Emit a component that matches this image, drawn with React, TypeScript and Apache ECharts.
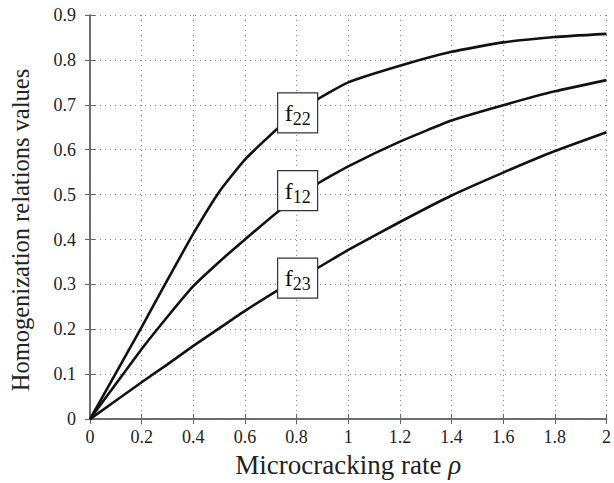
import React, { useEffect, useRef } from "react";
import * as echarts from "echarts";

const rho = [0, 0.2, 0.3, 0.4, 0.5, 0.6, 0.73, 0.88, 1.0, 1.2, 1.4, 1.6, 1.8, 2.0];
const f22 = [0, 0.205, 0.31, 0.413, 0.506, 0.578, 0.649, 0.712, 0.75, 0.787, 0.818, 0.839, 0.851, 0.858];
const f12 = [0, 0.156, 0.228, 0.296, 0.35, 0.4, 0.463, 0.524, 0.563, 0.618, 0.665, 0.699, 0.73, 0.755];
const f23 = [0, 0.082, 0.122, 0.163, 0.202, 0.241, 0.288, 0.336, 0.377, 0.439, 0.498, 0.549, 0.597, 0.639];
const seriesNames = ["22", "12", "23"];
const labelX = [0.804, 0.804, 0.804];
const labelY = [0.682, 0.509, 0.314];
const xTicks = ["0", "0.2", "0.4", "0.6", "0.8", "1", "1.2", "1.4", "1.6", "1.8", "2"];
const yTicks = ["0", "0.1", "0.2", "0.3", "0.4", "0.5", "0.6", "0.7", "0.8", "0.9"];

const FONT = "Liberation Serif";
const AXIS_COLOR = "#666";
const tickRich = { t: { fontFamily: FONT, fontSize: 18, color: "#222" } };

export default function App() {
  const ref = useRef<HTMLDivElement>(null);
  useEffect(() => {
    document.body.style.margin = "0";
    if (!ref.current) return;
    const chart = echarts.init(ref.current, undefined, { renderer: "svg" });
    const allData = [f22, f12, f23];
    const series = allData.map((vals, i) => ({
      type: "line",
      name: "f" + seriesNames[i],
      data: rho.map((x, j) => [x, vals[j]]),
      showSymbol: false,
      smooth: 0.15,
      lineStyle: { color: "#111", width: 2.6 },
      z: 3,
      markPoint: {
        symbol: "rect",
        symbolSize: [40, 40],
        itemStyle: { color: "#fff", borderColor: "#333", borderWidth: 1.2 },
        z: 5,
        label: {
          show: true,
          position: "inside",
          formatter: "{f|f}{s|" + seriesNames[i] + "}",
          rich: {
            f: { fontFamily: FONT, fontSize: 24, color: "#111", lineHeight: 24 },
            s: { fontFamily: FONT, fontSize: 18, color: "#111", lineHeight: 24, padding: [12, 0, 0, 0] },
          },
        },
        data: [{ coord: [labelX[i], labelY[i]] }],
      },
    }));
    const axisCommon = {
      axisLine: { show: true, lineStyle: { color: AXIS_COLOR, width: 1.5 } },
      axisTick: { show: true, inside: true, length: 5, lineStyle: { color: AXIS_COLOR, width: 1 } },
    };
    chart.setOption({
      animation: false,
      backgroundColor: "#fff",
      textStyle: { fontFamily: FONT },
      grid: { left: 89, right: 5, top: 15, bottom: 59, containLabel: false },
      xAxis: [
        {
          type: "value",
          min: 0,
          max: 2,
          interval: 0.2,
          position: "bottom",
          ...axisCommon,
          axisLabel: {
            color: "#222",
            fontFamily: FONT,
            fontSize: 18,
            margin: 9,
            rich: tickRich,
            formatter: (v: number) => "{t|" + (xTicks[Math.round(v / 0.2)] ?? "") + "}",
          },
          splitLine: { show: true, lineStyle: { color: "#888", type: [1, 4], width: 1 } },
          name: "Microcracking rate {i|ρ}",
          nameLocation: "middle",
          nameGap: 31,
          nameTextStyle: {
            fontFamily: FONT,
            fontSize: 27,
            color: "#222",
            rich: { i: { fontFamily: FONT, fontSize: 27, fontStyle: "italic", color: "#222" } },
          },
        },
        {
          type: "value",
          min: 0,
          max: 2,
          interval: 0.2,
          position: "top",
          ...axisCommon,
          axisLabel: { show: false },
          splitLine: { show: false },
        },
      ],
      yAxis: [
        {
          type: "value",
          min: 0,
          max: 0.9,
          interval: 0.1,
          position: "left",
          ...axisCommon,
          axisLabel: {
            color: "#222",
            fontFamily: FONT,
            fontSize: 18,
            margin: 14,
            rich: tickRich,
            formatter: (v: number) => "{t|" + (yTicks[Math.round(v / 0.1)] ?? "") + "}",
          },
          splitLine: { show: true, lineStyle: { color: "#888", type: [1, 4], width: 1 } },
          name: "Homogenization relations values",
          nameLocation: "middle",
          nameGap: 57,
          nameTextStyle: { fontFamily: FONT, fontSize: 24.5, color: "#222", padding: [0, 26, 0, 0] },
        },
        {
          type: "value",
          min: 0,
          max: 0.9,
          interval: 0.1,
          position: "right",
          ...axisCommon,
          axisLabel: { show: false },
          splitLine: { show: false },
        },
      ],
      series,
    });
    return () => chart.dispose();
  }, []);
  return <div ref={ref} style={{ width: 614, height: 483 }} />;
}
